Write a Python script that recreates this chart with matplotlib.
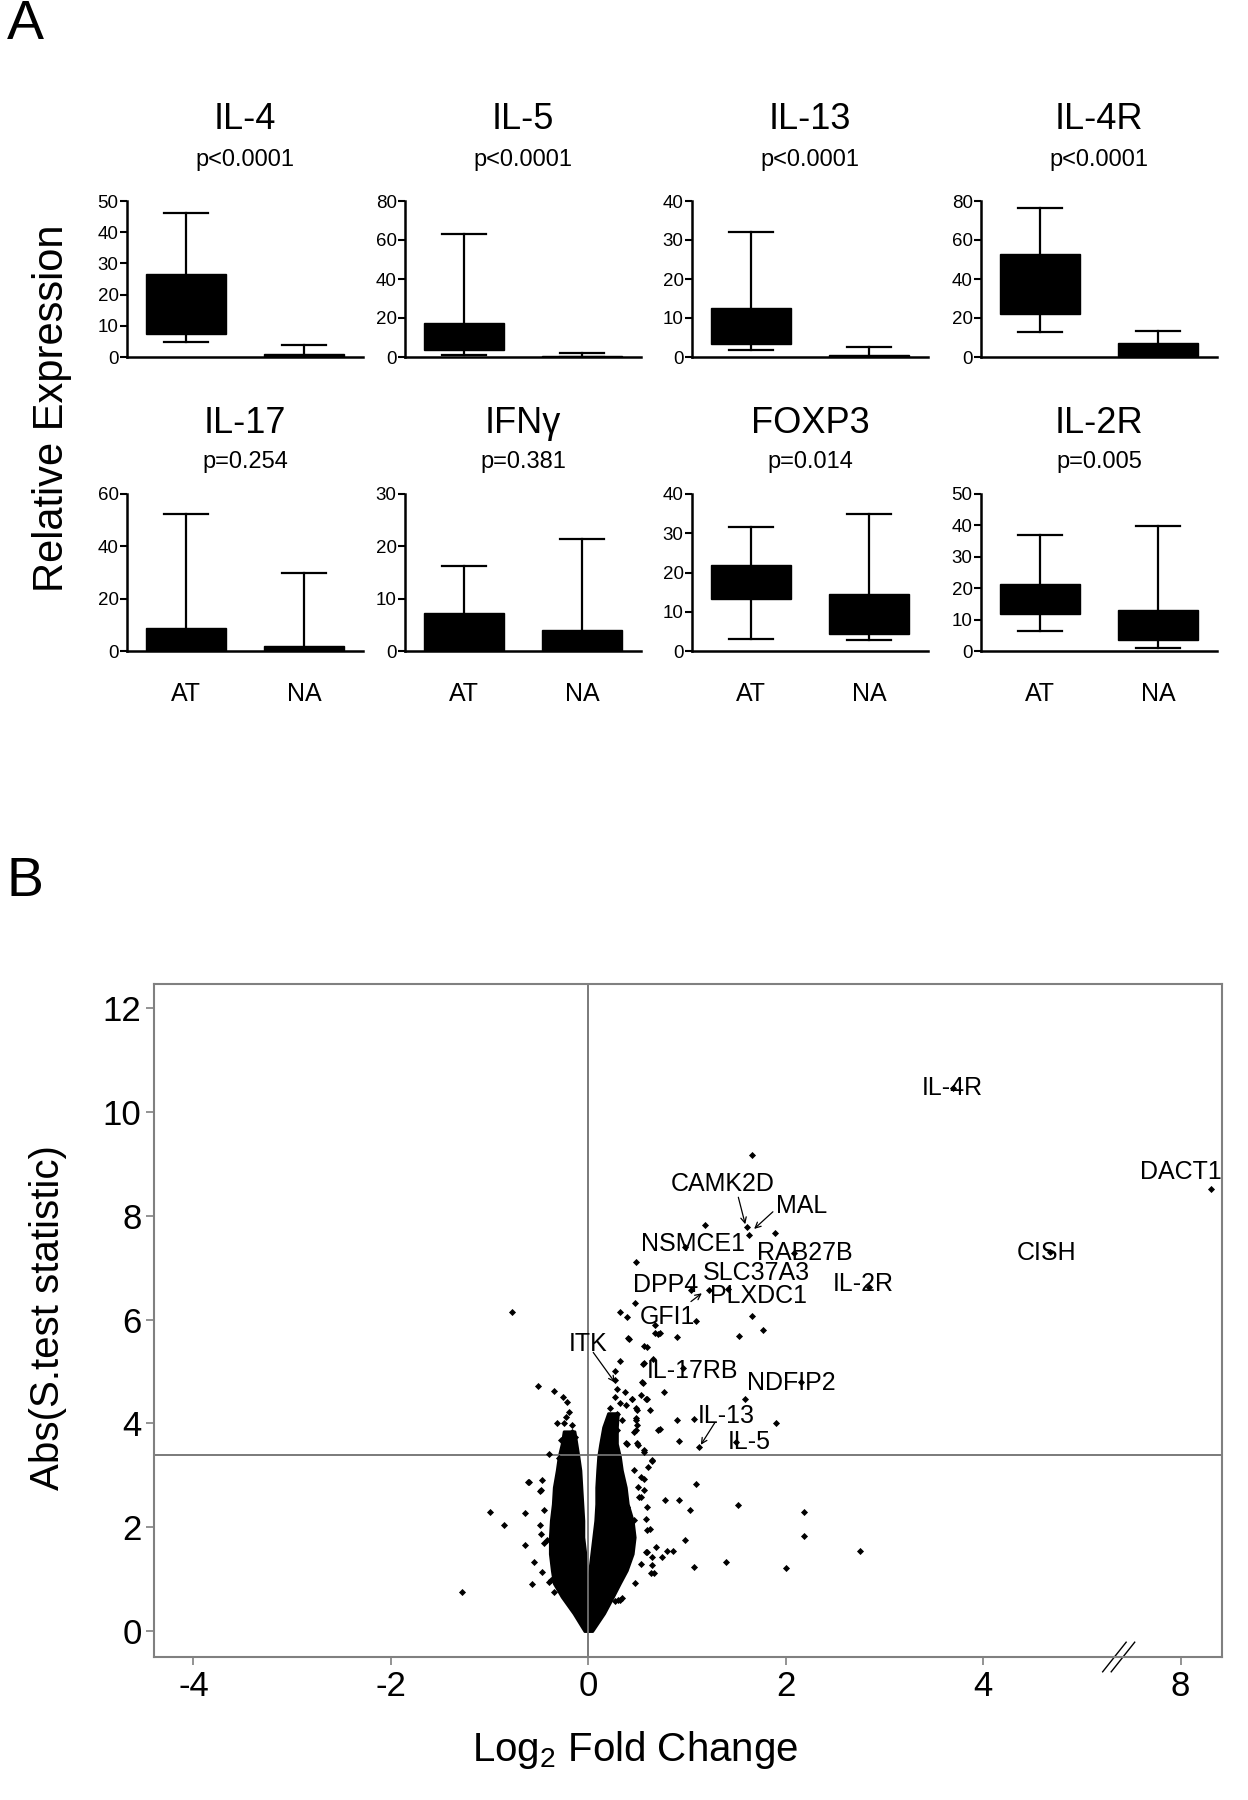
import matplotlib.pyplot as plt
import numpy as np

plt.rcParams['font.family'] = ['Liberation Sans', 'DejaVu Sans']
narrow = ['Liberation Sans Narrow', 'Liberation Sans', 'DejaVu Sans']

# ---------------- Panel A: relative expression, AT vs NA ----------------
genes = ['IL-4', 'IL-5', 'IL-13', 'IL-4R', 'IL-17', 'IFNγ', 'FOXP3', 'IL-2R']
pvals = ['p<0.0001', 'p<0.0001', 'p<0.0001', 'p<0.0001',
         'p=0.254', 'p=0.381', 'p=0.014', 'p=0.005']
ymax = [50, 80, 40, 80, 60, 30, 40, 50]
ystep = [10, 20, 10, 20, 20, 10, 10, 10]
groups = ['AT', 'NA']

at_whislo = [4.9, 1.2, 1.9, 12.6, 0.0, 0.0, 3.1, 6.4]
at_q1 = [7.5, 3.4, 3.3, 22.2, 0.0, 0.0, 13.2, 11.7]
at_q3 = [26.5, 17.2, 12.5, 52.7, 8.6, 7.2, 21.9, 21.2]
at_whishi = [46.1, 63.3, 32.0, 76.3, 52.4, 16.2, 31.7, 37.1]
na_whislo = [0.0, 0.0, 0.0, 0.0, 0.0, 0.0, 2.9, 1.0]
na_q1 = [0.1, 0.2, 0.1, 0.3, 0.0, 0.0, 4.3, 3.5]
na_q3 = [1.1, 0.7, 0.5, 7.2, 1.8, 4.1, 14.6, 13.0]
na_whishi = [3.9, 2.0, 2.6, 13.5, 29.9, 21.4, 34.9, 39.9]

# ---------------- Panel B: volcano plot ----------------
# dense core of genes, read as the envelope of the black V
left_y = [0.0, 0.34, 0.66, 0.92, 1.17, 1.49, 1.81, 2.13, 2.45, 2.77, 3.10, 3.37, 3.61, 3.85]
left_outer = [-0.04, -0.15, -0.27, -0.35, -0.37, -0.39, -0.39, -0.38, -0.36, -0.35, -0.32, -0.30, -0.27, -0.25]
left_inner = [0.0, 0.0, 0.0, 0.0, -0.02, -0.03, -0.05, -0.05, -0.06, -0.07, -0.08, -0.10, -0.12, -0.14]
right_y = [0.0, 0.34, 0.66, 0.92, 1.17, 1.49, 1.81, 2.13, 2.45, 2.77, 3.10, 3.37, 3.61, 3.93, 4.20]
right_inner = [0.0, 0.0, 0.0, 0.0, 0.01, 0.03, 0.05, 0.07, 0.08, 0.08, 0.09, 0.10, 0.12, 0.15, 0.20]
right_outer = [0.04, 0.16, 0.25, 0.32, 0.39, 0.45, 0.47, 0.45, 0.40, 0.38, 0.34, 0.32, 0.29, 0.29, 0.30]

# individual genes outside the dense core
pts_x = [1.66, 1.18, 1.61, 1.63, 1.89, 0.48, 0.98, 2.08, 1.22, 1.04, 1.42, 2.84, 0.47, 1.66,
         1.09, 0.32, 0.39, 0.68, 0.68, 0.73, 0.90, 1.53, 1.77, 0.40, 0.59, 0.66, 0.56, 0.96,
         0.32, 2.15, 1.59, 0.54, 0.77, 1.07, 0.90, 0.73, 1.90, 0.92, 1.12, 1.50, 3.69, 4.68,
         8.31, -0.77,
         0.41, 0.56, 0.71, 0.55, 0.27, 0.58, 0.44, 0.48, 0.48, 0.49, 0.39, 0.50, 0.56,
         -0.51, -0.35, -0.26, -0.22, -0.20, -0.23, -0.25, -0.32, -0.17, -0.17, -0.28, -0.20,
         -0.13, -0.14, -0.40, -0.30,
         0.27, 0.29, 0.37, 0.27, 0.32, 0.38, 0.22, 0.29, 0.34, 0.22, 0.29, 0.16, 0.21, 0.44,
         0.53, 0.55, 0.48, 0.59, 0.63, 0.48, 0.46, 0.49, 0.38, 0.49, 0.56, 0.65, 0.71,
         0.46, 0.53, 0.56, 0.51, 0.59, 0.39, 0.46, 0.41, 0.59, 0.69, 0.59, 0.64, 0.53, 0.39,
         0.32, 0.27,
         0.65, 0.60, 0.56, 0.50, 0.78, 0.92, 1.03, 1.09, 0.53, 0.58, 0.63, 0.80, 0.86, 0.58,
         0.65, 0.75, 1.07, 0.67, 0.65, 0.47, 0.30, 0.34, 0.98, 1.52, 2.19, 2.19, 2.75, 2.00,
         1.40,
         -0.60, -0.47, -0.48, -0.64, -0.45, -0.49, -0.48, -0.64, -0.85, -0.45, -0.55, -0.47,
         -0.57, -0.38, -0.35, -0.42, -0.61, -1.00, -0.49, -0.40, -1.28]
pts_y = [9.18, 7.82, 7.79, 7.63, 7.68, 7.12, 7.40, 7.28, 6.57, 6.58, 6.60, 6.63, 6.33, 6.08,
         5.98, 6.14, 6.06, 5.90, 5.74, 5.74, 5.66, 5.69, 5.80, 5.64, 5.48, 5.25, 5.16, 5.06,
         5.21, 4.80, 4.48, 4.80, 4.61, 4.08, 4.07, 3.89, 4.01, 3.66, 3.54, 3.65, 10.46, 7.30,
         8.52, 6.14,
         5.63, 5.50, 5.72, 5.15, 5.01, 4.47, 4.47, 3.88, 4.06, 4.26, 3.61, 3.58, 3.48,
         4.73, 4.63, 4.51, 4.42, 4.23, 4.13, 4.00, 4.00, 3.97, 3.84, 3.68, 3.68,
         3.74, 3.52, 3.42, 3.34,
         4.84, 4.67, 4.61, 4.51, 4.39, 4.35, 4.29, 4.19, 4.07, 4.00, 3.87, 3.71, 3.65, 4.48,
         4.55, 4.79, 4.29, 4.48, 4.26, 4.10, 3.84, 3.97, 3.62, 3.62, 3.46, 3.28, 3.87,
         3.10, 2.97, 2.71, 2.58, 2.39, 2.39, 2.14, 1.94, 1.94, 1.62, 1.53, 1.11, 1.30, 1.69,
         0.60, 0.57,
         3.30, 3.17, 2.94, 2.78, 2.52, 2.53, 2.33, 2.84, 2.58, 2.16, 1.97, 1.55, 1.55, 1.53,
         1.43, 1.43, 1.24, 1.11, 1.27, 0.92, 0.60, 0.63, 1.76, 2.43, 2.29, 1.84, 1.54, 1.21,
         1.33,
         2.88, 2.91, 2.72, 2.27, 2.33, 2.04, 1.88, 1.65, 2.05, 1.69, 1.33, 1.14,
         0.91, 0.98, 0.75, 1.75, 2.87, 2.30, 2.69, 0.95, 0.75]

label_names = ['IL-4R', 'DACT1', 'CISH', 'CAMK2D', 'MAL', 'NSMCE1', 'RAB27B', 'SLC37A3',
               'IL-2R', 'DPP4', 'PLXDC1', 'GFI1', 'ITK', 'IL-17RB', 'NDFIP2', 'IL-13', 'IL-5']
label_x = [3.69, 8.00, 4.64, 1.36, 2.16, 1.06, 2.19, 1.70, 2.79, 0.78, 1.72, 0.80, 0.00,
           1.06, 2.06, 1.40, 1.63]
label_y = [10.46, 8.85, 7.28, 8.62, 8.19, 7.45, 7.29, 6.91, 6.68, 6.67, 6.45, 6.05, 5.53,
           5.02, 4.79, 4.15, 3.64]

arrow_from = [(1.52, 8.36), (1.87, 8.08), (1.04, 6.35), (0.05, 5.37), (1.28, 4.01)]
arrow_to = [(1.59, 7.84), (1.68, 7.75), (1.15, 6.51), (0.27, 4.79), (1.14, 3.59)]

xtick_vals = [-4, -2, 0, 2, 4, 8]
ytick_vals = [0, 2, 4, 6, 8, 10, 12]
s_cut = 3.39
x_break = 5.33


def brk(x):
    # axis is broken between 5 and 8: values beyond the break are shifted left by 2
    x = np.asarray(x, dtype=float)
    return np.where(x > 5.5, x - 2, x)


W, H = 1248, 1800
fig = plt.figure(figsize=(W / 100, H / 100), dpi=100)

col_left = [127, 405, 692, 981]
row_top = [201, 494]
row_bot = [357, 651]
ax_w = 236
title_off = [59, 51]
p_off = [29.5, 23]

for i, g in enumerate(genes):
    r, c = divmod(i, 4)
    ax = fig.add_axes([col_left[c] / W, 1 - row_bot[r] / H, ax_w / W,
                       (row_bot[r] - row_top[r]) / H])
    stats = [
        dict(whislo=at_whislo[i], q1=at_q1[i], med=at_q1[i], q3=at_q3[i],
             whishi=at_whishi[i], fliers=[]),
        dict(whislo=na_whislo[i], q1=na_q1[i], med=na_q1[i], q3=na_q3[i],
             whishi=na_whishi[i], fliers=[]),
    ]
    ax.bxp(stats, positions=[0, 1], widths=0.68, capwidths=0.38, patch_artist=True,
           showfliers=False, manage_ticks=False,
           boxprops=dict(facecolor='black', edgecolor='black', linewidth=1),
           whiskerprops=dict(color='black', linewidth=1.6),
           capprops=dict(color='black', linewidth=1.6),
           medianprops=dict(linewidth=0))
    ax.set_xlim(-0.5, 1.5)
    ax.set_ylim(0, ymax[i])
    ax.set_yticks(np.arange(0, ymax[i] + 1, ystep[i]))
    ax.tick_params(axis='y', direction='out', length=5, width=1.5, labelsize=13.5, pad=1)
    for s in ['top', 'right']:
        ax.spines[s].set_visible(False)
    for s in ['left', 'bottom']:
        ax.spines[s].set_linewidth(1.8)
    if r == 1:
        ax.set_xticks([0, 1])
        ax.set_xticklabels(groups, fontsize=18)
        ax.tick_params(axis='x', length=0, pad=22)
    else:
        ax.set_xticks([])
    ax.annotate(g, xy=(0.5, 1), xycoords='axes fraction', xytext=(0, title_off[r]),
                textcoords='offset points', ha='center', va='center', fontsize=26)
    ax.annotate(pvals[i], xy=(0.5, 1), xycoords='axes fraction', xytext=(0, p_off[r]),
                textcoords='offset points', ha='center', va='center', fontsize=17)

fig.text(52 / W, 1 - 408 / H, 'Relative Expression', rotation=90, ha='center',
         va='center', fontsize=30)
fig.text(25 / W, 1 - 25 / H, 'A', ha='center', va='center', fontsize=40)
fig.text(25 / W, 1 - 882 / H, 'B', ha='center', va='center', fontsize=40)

# ---------------- volcano ----------------
axB = fig.add_axes([154 / W, 1 - 1657 / H, (1222 - 154) / W, (1657 - 984) / H])
axB.fill_betweenx(left_y, left_outer, left_inner, facecolor='black', linewidth=2,
                  edgecolor='black')
axB.fill_betweenx(right_y, right_inner, right_outer, facecolor='black', linewidth=2,
                  edgecolor='black')
axB.scatter(brk(pts_x), pts_y, marker='D', s=13, c='black', linewidths=0, zorder=3)
axB.axvline(0, color='#707070', lw=1.3, zorder=1)
axB.axhline(s_cut, color='#707070', lw=1.3, zorder=1)

for name, x, y in zip(label_names, brk(label_x), label_y):
    axB.text(x, y, name, ha='center', va='center', fontsize=18, family=narrow, zorder=4)
for (x0, y0), (x1, y1) in zip(arrow_from, arrow_to):
    axB.annotate('', xy=(x1, y1), xytext=(x0, y0),
                 arrowprops=dict(arrowstyle='->', lw=0.9, color='black',
                                 shrinkA=0, shrinkB=0, mutation_scale=10))

axB.set_xlim(-4.40, 6.42)
axB.set_ylim(-0.50, 12.47)
axB.set_xticks(brk(xtick_vals))
axB.set_xticklabels([str(v) for v in xtick_vals], family=narrow, fontsize=25)
axB.set_yticks(ytick_vals)
axB.set_yticklabels([str(v) for v in ytick_vals], family=narrow, fontsize=25)
axB.tick_params(direction='out', length=6, width=1.2, color='#808080', pad=3)
for s in axB.spines.values():
    s.set_color('#808080')
    s.set_linewidth(1.5)

# break marks on the x axis
xb = (x_break + 4.40) / (6.42 + 4.40)
for dx in (0.0, 0.008):
    axB.plot([xb - 0.011 + dx, xb + 0.011 + dx], [-0.022, 0.022],
             transform=axB.transAxes, color='black', lw=1.0, clip_on=False)

fig.text(48 / W, 1 - 1318 / H, 'Abs(S.test statistic)', rotation=90, ha='center',
         va='center', fontsize=29, family=narrow)
fig.text(635 / W, 1 - 1750 / H, r'Log$_\mathregular{2}$ Fold Change', ha='center',
         va='center', fontsize=29, family=narrow)

fig.savefig('out.png', dpi=100)
